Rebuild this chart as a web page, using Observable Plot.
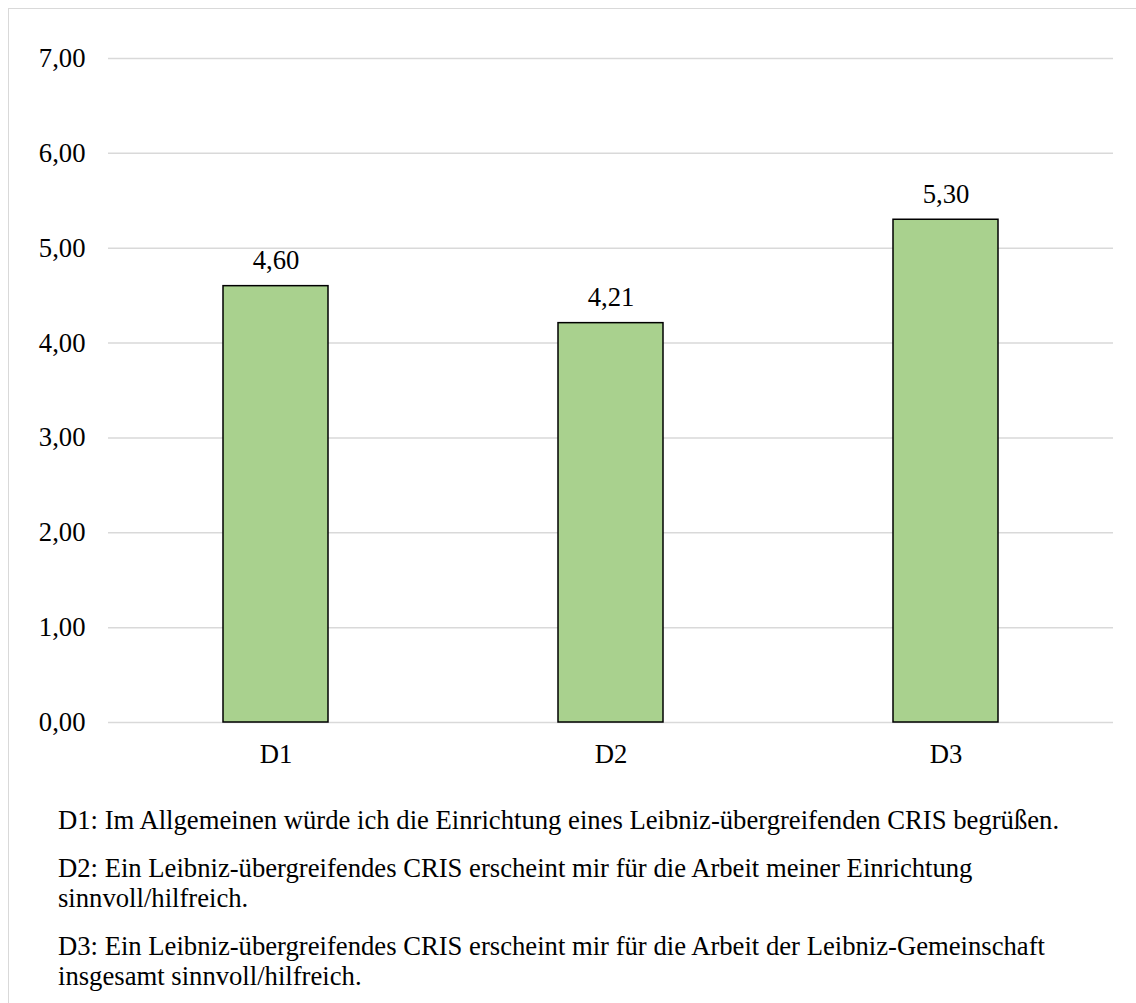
<!DOCTYPE html>
<html>
<head>
<meta charset="utf-8">
<script src="https://cdn.jsdelivr.net/npm/d3@7"></script>
<script src="https://cdn.jsdelivr.net/npm/@observablehq/plot@0.6"></script>
<style>
  html, body { margin: 0; padding: 0; background: #fff; overflow: hidden; }
  body { width: 1136px; height: 1003px; position: relative; font-family: "Liberation Serif", "Times New Roman", serif; }
  #frame { position: absolute; left: 8px; top: 8px; width: 1300px; height: 1200px; border: 1.5px solid #d9d9d9; box-sizing: border-box; }
  #chart { position: absolute; left: 0; top: 0; }
  #notes { position: absolute; left: 58px; top: 805px; font-size: 26.67px; line-height: 30px; color: #000; width: 1050px; }
  #notes p { margin: 0 0 18px 0; }
</style>
</head>
<body>
<div id="frame"></div>
<div id="chart"></div>
<div id="notes"></div>
<script>
const categories = ["D1", "D2", "D3"];
const values = [4.60, 4.21, 5.30];
const yTicks = [0, 1, 2, 3, 4, 5, 6, 7];
const notes = [
  "D1: Im Allgemeinen würde ich die Einrichtung eines Leibniz-übergreifenden CRIS begrüßen.",
  "D2: Ein Leibniz-übergreifendes CRIS erscheint mir für die Arbeit meiner Einrichtung sinnvoll/hilfreich.",
  "D3: Ein Leibniz-übergreifendes CRIS erscheint mir für die Arbeit der Leibniz-Gemeinschaft insgesamt sinnvoll/hilfreich."
];

const data = categories.map((c, i) => ({cat: c, value: values[i]}));
const fmt = d => d.toFixed(2).replace(".", ",");

const chart = Plot.plot({
  width: 1136,
  height: 780,
  marginLeft: 108,
  marginRight: 23,
  marginTop: 58,
  marginBottom: 58,
  style: {fontFamily: "'Liberation Serif', 'Times New Roman', serif", fontSize: "26.67px", color: "#000", background: "transparent"},
  x: {domain: categories, paddingInner: 0.687, paddingOuter: 0.3435, label: null},
  y: {domain: [0, 7], label: null},
  marks: [
    Plot.gridY(yTicks, {stroke: "#d9d9d9", strokeOpacity: 1, strokeWidth: 1.5}),
    Plot.barY(data, {x: "cat", y: "value", fill: "#a9d18e", stroke: "#000", strokeWidth: 1.5}),
    Plot.text(data, {x: "cat", y: "value", text: d => fmt(d.value), lineAnchor: "bottom", dy: -17, fontSize: 26.67, fill: "#000"}),
    Plot.axisY({ticks: yTicks, tickFormat: fmt, tickSize: 0, tickPadding: 23, label: null, fontSize: 26.67, fill: "#000"}),
    Plot.axisX({tickSize: 0, tickPadding: 22, label: null, fontSize: 26.67, fill: "#000"})
  ]
});
document.getElementById("chart").appendChild(chart);

const notesEl = document.getElementById("notes");
notes.forEach(t => {
  const p = document.createElement("p");
  p.textContent = t;
  notesEl.appendChild(p);
});
</script>
</body>
</html>
